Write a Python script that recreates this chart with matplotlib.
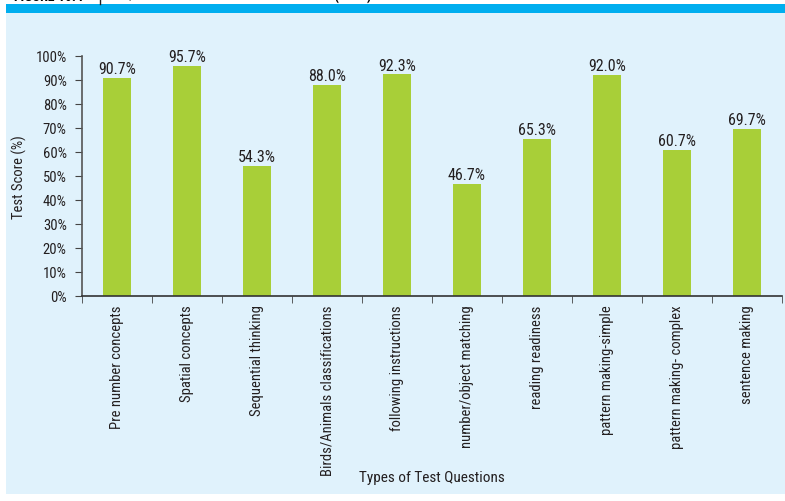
import matplotlib
matplotlib.use("Agg")
import matplotlib.pyplot as plt
from matplotlib.patches import Rectangle
from matplotlib.ticker import FuncFormatter, MultipleLocator
from matplotlib import font_manager

categories = ["Pre number concepts", "Spatial concepts", "Sequential thinking",
              "Birds/Animals classifications", "following instructions",
              "number/object matching", "reading readiness", "pattern making-simple",
              "pattern making- complex", "sentence making"]
scores = [90.7, 95.7, 54.3, 88.0, 92.3, 46.7, 65.3, 92.0, 60.7, 69.7]

names = {f.name for f in font_manager.fontManager.ttflist}
fam = 'DejaVu Sans'
for cand in ['Liberation Sans Narrow', 'Roboto Condensed', 'Open Sans Condensed', 'DejaVu Sans Condensed']:
    if cand in names:
        fam = cand
        break
plt.rcParams['font.family'] = [fam, 'DejaVu Sans']
plt.rcParams['font.stretch'] = 'condensed'

W, H = 785, 502
fig = plt.figure(figsize=(W / 100, H / 100), dpi=100)
fig.patch.set_facecolor('white')

fig.add_artist(Rectangle((6 / W, (H - 495) / H), 1 - 6 / W, (495 - 14) / H,
                         transform=fig.transFigure, facecolor='#E0F2FC', edgecolor='none', zorder=0))
fig.add_artist(Rectangle((6 / W, (H - 14) / H), 1 - 6 / W, 9 / H,
                         transform=fig.transFigure, facecolor='#00AEEF', edgecolor='none', zorder=0))
fig.text(14 / W, 1 - 4 / H, "FIGURE 10.4", fontsize=10, fontweight='bold', va='bottom', ha='left')
fig.add_artist(plt.Line2D([100 / W, 100 / W], [1 - 5 / H, 1], transform=fig.transFigure,
                          color='#231F20', lw=1))
fig.text(108 / W, 1 - 4 / H, "ECE/ALS School Readiness Test Results (2016)", fontsize=10,
         fontweight='bold', va='bottom', ha='left')

ax = fig.add_axes([82 / W, (H - 297) / H, (782 - 82) / W, (297 - 57) / H])
ax.set_facecolor('none')
x = list(range(len(categories)))
ax.bar(x, scores, width=0.4, color='#A8CF38', zorder=2)
for xi, v in zip(x, scores):
    ax.text(xi, v + 0.8, f"{v:.1f}%", ha='center', va='bottom', fontsize=11.5, color='#231F20')

ax.set_xlim(-0.5, len(categories) - 0.5)
ax.set_ylim(0, 100)
ax.yaxis.set_major_locator(MultipleLocator(10))
ax.yaxis.set_major_formatter(FuncFormatter(lambda v, p: f"{int(v)}%"))
ax.set_xticks(x)
ax.set_xticklabels(categories, rotation=90, fontsize=10.5, color='#231F20')
ax.set_xticks([i - 0.5 for i in range(len(categories) + 1)], minor=True)
ax.tick_params(axis='x', which='major', length=0, pad=6)
ax.tick_params(axis='x', which='minor', length=5, color='#444444', direction='out')
ax.tick_params(axis='y', length=5, pad=6, color='#444444', labelsize=10.5, labelcolor='#231F20')
for s in ['top', 'right']:
    ax.spines[s].set_visible(False)
ax.spines['left'].set_color('#555555')
ax.spines['bottom'].set_color('#333333')
ax.spines['left'].set_linewidth(1.2)
ax.spines['bottom'].set_linewidth(1.2)

ax.set_ylabel("Test Score (%)", fontsize=10.5, color='#231F20', labelpad=6)
fig.text(432 / W, 1 - 478 / H, "Types of Test Questions", fontsize=11, ha='center', va='center',
         color='#231F20')

fig.savefig("out.png", dpi=100)
